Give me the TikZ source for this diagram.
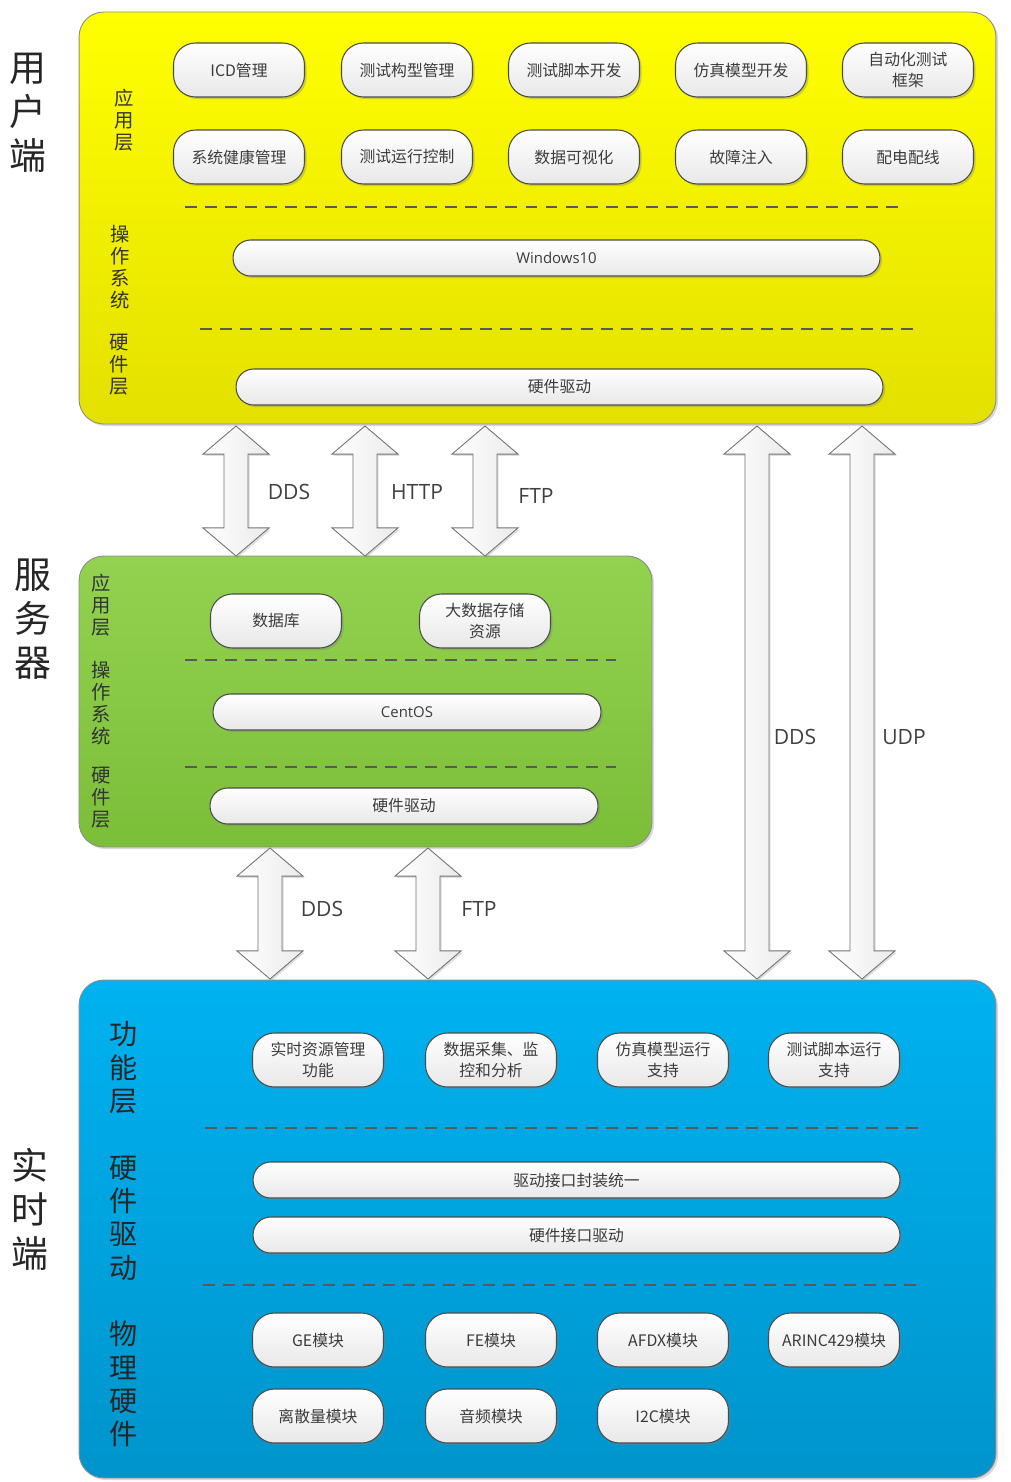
\documentclass[tikz,border=0pt]{standalone}
\usepackage{fontspec}
\setmainfont{Noto Sans CJK SC}
\newfontfamily\latfont{Open Sans}
\usetikzlibrary{shadows,calc}
\definecolor{txt}{HTML}{3C3C3C}
\definecolor{yTop}{HTML}{FFFF00}
\definecolor{yBot}{HTML}{E4E000}
\definecolor{gTop}{HTML}{93D250}
\definecolor{gBot}{HTML}{7BBE38}
\definecolor{bTop}{HTML}{00B2F0}
\definecolor{bBot}{HTML}{0094CC}
\newcommand\blockarrow[2]{%
  \draw[barrow] let \p1=(#1), \p2=(#2) in
  (\p1) -- (\x1+18.8pt,\y1-16pt) -- (\x1+6.8pt,\y1-16pt) -- (\x1+6.8pt,\y2+16pt)
  -- (\x1+18.8pt,\y2+16pt) -- (\p2) -- (\x1-18.8pt,\y2+16pt) -- (\x1-6.8pt,\y2+16pt)
  -- (\x1-6.8pt,\y1-16pt) -- (\x1-18.8pt,\y1-16pt) -- cycle;}
\begin{document}
\begin{tikzpicture}[x=0.02cm,y=-0.02cm,
  bigbox/.style={draw=black!45, line width=0.5pt, rounded corners=14pt,
    drop shadow={shadow xshift=1.2pt, shadow yshift=-1.2pt, opacity=0.3}},
  pill/.style={draw=black!70, line width=0.6pt, rounded corners=12.5pt,
    top color=white, bottom color=black!9, minimum width=2.62cm, minimum height=1.08cm,
    inner sep=1pt, align=center, text=txt, font=\fontsize{9}{11.5}\selectfont,
    drop shadow={shadow xshift=1.2pt, shadow yshift=-1.2pt, opacity=0.35}},
  bar/.style={pill, rounded corners=10pt, minimum height=0.72cm},
  sidelbl/.style={align=center, text=black!85, font=\fontsize{21}{25}\selectfont},
  laylbl/.style={align=center, text=black!80, font=\fontsize{11}{12.6}\selectfont},
  laylblb/.style={align=center, text=black!85, font=\fontsize{16}{19}\selectfont},
  dline/.style={black!65, line width=0.85pt, dash pattern=on 6.8pt off 4.6pt},
  barrow/.style={draw=black!55, line width=0.5pt, left color=white, right color=black!8,
    drop shadow={shadow xshift=1pt, shadow yshift=-1pt, opacity=0.25}},
  proto/.style={text=black!75, font=\latfont\fontsize{12}{14}\selectfont}]

\useasboundingbox[fill=white] (0,0) rectangle (1011,1482);

% big boxes
\node[bigbox, top color=yTop, bottom color=yBot, minimum width=18.34cm, minimum height=8.24cm] (user) at (537.5,218) {};
\node[bigbox, top color=gTop, bottom color=gBot, minimum width=11.46cm, minimum height=5.82cm] (server) at (365.5,701.5) {};
\node[bigbox, top color=bTop, bottom color=bBot, minimum width=18.34cm, minimum height=9.96cm] (rt) at (537.5,1229) {};

% side labels
\node[sidelbl] (lu) at (28,113) {用\\户\\端};
\node[sidelbl] (ls) at (33,619) {服\\务\\器};
\node[sidelbl] (lr) at (30,1209) {实\\时\\端};

% user layer labels
\node[laylbl] (u1) at (124,120) {应\\用\\层};
\node[laylbl] (u2) at (120,267) {操\\作\\系\\统};
\node[laylbl] (u3) at (119,365) {硬\\件\\层};

% user pills
\node[pill] (a1) at (239,70) {ICD管理};
\node[pill] (a2) at (407,70) {测试构型管理};
\node[pill] (a3) at (574,70) {测试脚本开发};
\node[pill] (a4) at (741,70) {仿真模型开发};
\node[pill] (a5) at (908,70) {自动化测试\\框架};
\node[pill] (b1) at (239,157) {系统健康管理};
\node[pill] (b2) at (407,157) {测试运行控制};
\node[pill] (b3) at (574,157) {数据可视化};
\node[pill] (b4) at (741,157) {故障注入};
\node[pill] (b5) at (908,157) {配电配线};

\coordinate (d1a) at (185,207); \coordinate (d1b) at (903,207);
\draw[dline] (d1a) -- (d1b);
\node[bar, minimum width=12.94cm, font=\latfont\fontsize{8.5}{10}\selectfont] (win) at (556.5,258) {Windows10};
\coordinate (d2a) at (200,329); \coordinate (d2b) at (918,329);
\draw[dline] (d2a) -- (d2b);
\node[bar, minimum width=12.94cm] (uhw) at (559.5,387) {硬件驱动};

% server
\node[laylbl] (s1) at (101,605) {应\\用\\层};
\node[laylbl] (s2) at (101,703) {操\\作\\系\\统};
\node[laylbl] (s3) at (101,798) {硬\\件\\层};
\node[pill] (db) at (276,621) {数据库};
\node[pill] (bd) at (485,621) {大数据存储\\资源};
\coordinate (d3a) at (185,660); \coordinate (d3b) at (616,660);
\draw[dline] (d3a) -- (d3b);
\node[bar, minimum width=7.76cm, font=\latfont\fontsize{8.5}{10}\selectfont] (cos) at (407,712) {CentOS};
\coordinate (d4a) at (185,767); \coordinate (d4b) at (616,767);
\draw[dline] (d4a) -- (d4b);
\node[bar, minimum width=7.76cm] (shw) at (404,806) {硬件驱动};

% real-time
\node[laylblb] (r1) at (124,1068) {功\\能\\层};
\node[laylblb] (r2) at (124,1218) {硬\\件\\驱\\动};
\node[laylblb] (r3) at (124,1384) {物\\理\\硬\\件};
\node[pill] (f1) at (318,1060) {实时资源管理\\功能};
\node[pill] (f2) at (491,1060) {数据采集、监\\控和分析};
\node[pill] (f3) at (663,1060) {仿真模型运行\\支持};
\node[pill] (f4) at (834,1060) {测试脚本运行\\支持};
\coordinate (d5a) at (205,1128); \coordinate (d5b) at (922,1128);
\draw[dline] (d5a) -- (d5b);
\node[bar, minimum width=12.94cm] (drv1) at (576.5,1180) {驱动接口封装统一};
\node[bar, minimum width=12.94cm] (drv2) at (576.5,1235) {硬件接口驱动};
\coordinate (d6a) at (203,1285); \coordinate (d6b) at (920,1285);
\draw[dline] (d6a) -- (d6b);
\node[pill] (m1) at (318,1340) {GE模块};
\node[pill] (m2) at (491,1340) {FE模块};
\node[pill] (m3) at (663,1340) {AFDX模块};
\node[pill] (m4) at (834,1340) {ARINC429模块};
\node[pill] (m5) at (318,1416) {离散量模块};
\node[pill] (m6) at (491,1416) {音频模块};
\node[pill] (m7) at (663,1416) {I2C模块};

% arrows
\coordinate (t1) at (236,426); \coordinate (e1) at (236,556);
\coordinate (t2) at (365,426); \coordinate (e2) at (365,556);
\coordinate (t3) at (485,426); \coordinate (e3) at (485,556);
\coordinate (t4) at (757,426); \coordinate (e4) at (757,979);
\coordinate (t5) at (862,426); \coordinate (e5) at (862,979);
\coordinate (t6) at (270,848); \coordinate (e6) at (270,979);
\coordinate (t7) at (428,848); \coordinate (e7) at (428,979);
\blockarrow{t1}{e1}
\blockarrow{t2}{e2}
\blockarrow{t3}{e3}
\blockarrow{t4}{e4}
\blockarrow{t5}{e5}
\blockarrow{t6}{e6}
\blockarrow{t7}{e7}

\node[proto] (p1) at (289,492) {DDS};
\node[proto] (p2) at (417,492) {HTTP};
\node[proto] (p3) at (536,496) {FTP};
\node[proto] (p4) at (795,737) {DDS};
\node[proto] (p5) at (904,737) {UDP};
\node[proto] (p6) at (322,909) {DDS};
\node[proto] (p7) at (479,909) {FTP};
\end{tikzpicture}
\end{document}
